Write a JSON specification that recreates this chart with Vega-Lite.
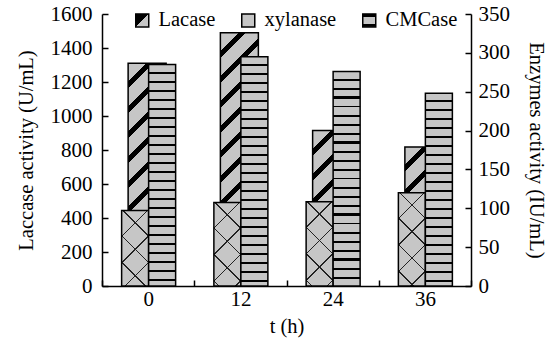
{
  "$schema": "https://vega.github.io/schema/vega-lite/v6.json",
  "width": 369,
  "height": 272,
  "autosize": {"type": "none"},
  "padding": {"left": 102, "top": 14, "right": 80, "bottom": 57},
  "background": "white",
  "config": {
    "view": {"stroke": null},
    "font": "Liberation Serif",
    "style": {"guide-label": {"font": "Liberation Serif", "fontSize": 21, "fill": "black"}, "guide-title": {"font": "Liberation Serif", "fontSize": 20.5, "fill": "black", "fontWeight": "normal"}},
    "axis": {
      "labelFont": "Liberation Serif", "labelFontSize": 21, "labelColor": "black",
      "titleFont": "Liberation Serif", "titleFontSize": 20.5, "titleFontWeight": "normal", "titleColor": "black",
      "domainColor": "black", "domainWidth": 1.5, "tickColor": "black", "tickWidth": 1.5, "tickSize": -6,
      "grid": false
    }
  },
  "params": [
    {"name": "lacStops", "value": [
      {"offset": 0, "color": "#c6c6c6"}, {"offset": 0.06, "color": "#c6c6c6"}, {"offset": 0.06, "color": "#000"}, {"offset": 0.0833, "color": "#000"},
      {"offset": 0.0833, "color": "#c6c6c6"}, {"offset": 0.1433, "color": "#c6c6c6"}, {"offset": 0.1433, "color": "#000"}, {"offset": 0.1667, "color": "#000"},
      {"offset": 0.1667, "color": "#c6c6c6"}, {"offset": 0.2267, "color": "#c6c6c6"}, {"offset": 0.2267, "color": "#000"}, {"offset": 0.25, "color": "#000"},
      {"offset": 0.25, "color": "#c6c6c6"}, {"offset": 0.31, "color": "#c6c6c6"}, {"offset": 0.31, "color": "#000"}, {"offset": 0.3333, "color": "#000"},
      {"offset": 0.3333, "color": "#c6c6c6"}, {"offset": 0.3933, "color": "#c6c6c6"}, {"offset": 0.3933, "color": "#000"}, {"offset": 0.4167, "color": "#000"},
      {"offset": 0.4167, "color": "#c6c6c6"}, {"offset": 0.4767, "color": "#c6c6c6"}, {"offset": 0.4767, "color": "#000"}, {"offset": 0.5, "color": "#000"},
      {"offset": 0.5, "color": "#c6c6c6"}, {"offset": 0.56, "color": "#c6c6c6"}, {"offset": 0.56, "color": "#000"}, {"offset": 0.5833, "color": "#000"},
      {"offset": 0.5833, "color": "#c6c6c6"}, {"offset": 0.6433, "color": "#c6c6c6"}, {"offset": 0.6433, "color": "#000"}, {"offset": 0.6667, "color": "#000"},
      {"offset": 0.6667, "color": "#c6c6c6"}, {"offset": 0.7267, "color": "#c6c6c6"}, {"offset": 0.7267, "color": "#000"}, {"offset": 0.75, "color": "#000"},
      {"offset": 0.75, "color": "#c6c6c6"}, {"offset": 0.81, "color": "#c6c6c6"}, {"offset": 0.81, "color": "#000"}, {"offset": 0.8333, "color": "#000"},
      {"offset": 0.8333, "color": "#c6c6c6"}, {"offset": 0.8933, "color": "#c6c6c6"}, {"offset": 0.8933, "color": "#000"}, {"offset": 0.9167, "color": "#000"},
      {"offset": 0.9167, "color": "#c6c6c6"}, {"offset": 0.9767, "color": "#c6c6c6"}, {"offset": 0.9767, "color": "#000"}, {"offset": 1, "color": "#000"}
    ]},
    {"name": "xyStops", "value": [
      {"offset": 0, "color": "#c6c6c6"}, {"offset": 0.1572, "color": "#c6c6c6"}, {"offset": 0.1572, "color": "#222"}, {"offset": 0.1667, "color": "#222"},
      {"offset": 0.1667, "color": "#c6c6c6"}, {"offset": 0.3239, "color": "#c6c6c6"}, {"offset": 0.3239, "color": "#222"}, {"offset": 0.3333, "color": "#222"},
      {"offset": 0.3333, "color": "#c6c6c6"}, {"offset": 0.4906, "color": "#c6c6c6"}, {"offset": 0.4906, "color": "#222"}, {"offset": 0.5, "color": "#222"},
      {"offset": 0.5, "color": "#c6c6c6"}, {"offset": 0.6572, "color": "#c6c6c6"}, {"offset": 0.6572, "color": "#222"}, {"offset": 0.6667, "color": "#222"},
      {"offset": 0.6667, "color": "#c6c6c6"}, {"offset": 0.8239, "color": "#c6c6c6"}, {"offset": 0.8239, "color": "#222"}, {"offset": 0.8333, "color": "#222"},
      {"offset": 0.8333, "color": "#c6c6c6"}, {"offset": 0.9906, "color": "#c6c6c6"}, {"offset": 0.9906, "color": "#222"}, {"offset": 1, "color": "#222"}
    ]},
    {"name": "xyStops2", "value": [
      {"offset": 0, "color": "rgba(0,0,0,0)"}, {"offset": 0.1572, "color": "rgba(0,0,0,0)"}, {"offset": 0.1572, "color": "#222"}, {"offset": 0.1667, "color": "#222"},
      {"offset": 0.1667, "color": "rgba(0,0,0,0)"}, {"offset": 0.3239, "color": "rgba(0,0,0,0)"}, {"offset": 0.3239, "color": "#222"}, {"offset": 0.3333, "color": "#222"},
      {"offset": 0.3333, "color": "rgba(0,0,0,0)"}, {"offset": 0.4906, "color": "rgba(0,0,0,0)"}, {"offset": 0.4906, "color": "#222"}, {"offset": 0.5, "color": "#222"},
      {"offset": 0.5, "color": "rgba(0,0,0,0)"}, {"offset": 0.6572, "color": "rgba(0,0,0,0)"}, {"offset": 0.6572, "color": "#222"}, {"offset": 0.6667, "color": "#222"},
      {"offset": 0.6667, "color": "rgba(0,0,0,0)"}, {"offset": 0.8239, "color": "rgba(0,0,0,0)"}, {"offset": 0.8239, "color": "#222"}, {"offset": 0.8333, "color": "#222"},
      {"offset": 0.8333, "color": "rgba(0,0,0,0)"}, {"offset": 0.9906, "color": "rgba(0,0,0,0)"}, {"offset": 0.9906, "color": "#222"}, {"offset": 1, "color": "#222"}
    ]},
    {"name": "cmStops", "value": [
      {"offset": 0, "color": "#c6c6c6"}, {"offset": 0.0299, "color": "#c6c6c6"}, {"offset": 0.0299, "color": "#000"}, {"offset": 0.0385, "color": "#000"},
      {"offset": 0.0385, "color": "#c6c6c6"}, {"offset": 0.0684, "color": "#c6c6c6"}, {"offset": 0.0684, "color": "#000"}, {"offset": 0.0769, "color": "#000"},
      {"offset": 0.0769, "color": "#c6c6c6"}, {"offset": 0.1068, "color": "#c6c6c6"}, {"offset": 0.1068, "color": "#000"}, {"offset": 0.1154, "color": "#000"},
      {"offset": 0.1154, "color": "#c6c6c6"}, {"offset": 0.1453, "color": "#c6c6c6"}, {"offset": 0.1453, "color": "#000"}, {"offset": 0.1538, "color": "#000"},
      {"offset": 0.1538, "color": "#c6c6c6"}, {"offset": 0.1838, "color": "#c6c6c6"}, {"offset": 0.1838, "color": "#000"}, {"offset": 0.1923, "color": "#000"},
      {"offset": 0.1923, "color": "#c6c6c6"}, {"offset": 0.2222, "color": "#c6c6c6"}, {"offset": 0.2222, "color": "#000"}, {"offset": 0.2308, "color": "#000"},
      {"offset": 0.2308, "color": "#c6c6c6"}, {"offset": 0.2607, "color": "#c6c6c6"}, {"offset": 0.2607, "color": "#000"}, {"offset": 0.2692, "color": "#000"},
      {"offset": 0.2692, "color": "#c6c6c6"}, {"offset": 0.2991, "color": "#c6c6c6"}, {"offset": 0.2991, "color": "#000"}, {"offset": 0.3077, "color": "#000"},
      {"offset": 0.3077, "color": "#c6c6c6"}, {"offset": 0.3376, "color": "#c6c6c6"}, {"offset": 0.3376, "color": "#000"}, {"offset": 0.3462, "color": "#000"},
      {"offset": 0.3462, "color": "#c6c6c6"}, {"offset": 0.3761, "color": "#c6c6c6"}, {"offset": 0.3761, "color": "#000"}, {"offset": 0.3846, "color": "#000"},
      {"offset": 0.3846, "color": "#c6c6c6"}, {"offset": 0.4145, "color": "#c6c6c6"}, {"offset": 0.4145, "color": "#000"}, {"offset": 0.4231, "color": "#000"},
      {"offset": 0.4231, "color": "#c6c6c6"}, {"offset": 0.453, "color": "#c6c6c6"}, {"offset": 0.453, "color": "#000"}, {"offset": 0.4615, "color": "#000"},
      {"offset": 0.4615, "color": "#c6c6c6"}, {"offset": 0.4915, "color": "#c6c6c6"}, {"offset": 0.4915, "color": "#000"}, {"offset": 0.5, "color": "#000"},
      {"offset": 0.5, "color": "#c6c6c6"}, {"offset": 0.5299, "color": "#c6c6c6"}, {"offset": 0.5299, "color": "#000"}, {"offset": 0.5385, "color": "#000"},
      {"offset": 0.5385, "color": "#c6c6c6"}, {"offset": 0.5684, "color": "#c6c6c6"}, {"offset": 0.5684, "color": "#000"}, {"offset": 0.5769, "color": "#000"},
      {"offset": 0.5769, "color": "#c6c6c6"}, {"offset": 0.6068, "color": "#c6c6c6"}, {"offset": 0.6068, "color": "#000"}, {"offset": 0.6154, "color": "#000"},
      {"offset": 0.6154, "color": "#c6c6c6"}, {"offset": 0.6453, "color": "#c6c6c6"}, {"offset": 0.6453, "color": "#000"}, {"offset": 0.6538, "color": "#000"},
      {"offset": 0.6538, "color": "#c6c6c6"}, {"offset": 0.6838, "color": "#c6c6c6"}, {"offset": 0.6838, "color": "#000"}, {"offset": 0.6923, "color": "#000"},
      {"offset": 0.6923, "color": "#c6c6c6"}, {"offset": 0.7222, "color": "#c6c6c6"}, {"offset": 0.7222, "color": "#000"}, {"offset": 0.7308, "color": "#000"},
      {"offset": 0.7308, "color": "#c6c6c6"}, {"offset": 0.7607, "color": "#c6c6c6"}, {"offset": 0.7607, "color": "#000"}, {"offset": 0.7692, "color": "#000"},
      {"offset": 0.7692, "color": "#c6c6c6"}, {"offset": 0.7991, "color": "#c6c6c6"}, {"offset": 0.7991, "color": "#000"}, {"offset": 0.8077, "color": "#000"},
      {"offset": 0.8077, "color": "#c6c6c6"}, {"offset": 0.8376, "color": "#c6c6c6"}, {"offset": 0.8376, "color": "#000"}, {"offset": 0.8462, "color": "#000"},
      {"offset": 0.8462, "color": "#c6c6c6"}, {"offset": 0.8761, "color": "#c6c6c6"}, {"offset": 0.8761, "color": "#000"}, {"offset": 0.8846, "color": "#000"},
      {"offset": 0.8846, "color": "#c6c6c6"}, {"offset": 0.9145, "color": "#c6c6c6"}, {"offset": 0.9145, "color": "#000"}, {"offset": 0.9231, "color": "#000"},
      {"offset": 0.9231, "color": "#c6c6c6"}, {"offset": 0.953, "color": "#c6c6c6"}, {"offset": 0.953, "color": "#000"}, {"offset": 0.9615, "color": "#000"},
      {"offset": 0.9615, "color": "#c6c6c6"}, {"offset": 0.9915, "color": "#c6c6c6"}, {"offset": 0.9915, "color": "#000"}, {"offset": 1, "color": "#000"}
    ]}
  ],
  "data": {"values": [
    {"t": "0", "enzyme": "Lacase", "value": 1310},
    {"t": "12", "enzyme": "Lacase", "value": 1490},
    {"t": "24", "enzyme": "Lacase", "value": 915},
    {"t": "36", "enzyme": "Lacase", "value": 818},
    {"t": "0", "enzyme": "xylanase", "value": 97},
    {"t": "12", "enzyme": "xylanase", "value": 107.5},
    {"t": "24", "enzyme": "xylanase", "value": 108.5},
    {"t": "36", "enzyme": "xylanase", "value": 120},
    {"t": "0", "enzyme": "CMCase", "value": 285},
    {"t": "12", "enzyme": "CMCase", "value": 295},
    {"t": "24", "enzyme": "CMCase", "value": 276},
    {"t": "36", "enzyme": "CMCase", "value": 248}
  ]},
  "encoding": {
    "x": {
      "field": "t", "type": "ordinal", "sort": ["0", "12", "24", "36"],
      "scale": {"paddingInner": 0, "paddingOuter": 0},
      "axis": {"title": "t (h)", "labelAngle": 0, "tickBand": "extent", "labelPadding": 8, "titlePadding": 7, "labelFont": "Liberation Serif", "labelFontSize": 21}
    }
  },
  "layer": [
    {
      "transform": [{"filter": "datum.enzyme === 'Lacase'"}],
      "mark": {
        "type": "bar", "width": 38, "xOffset": -1, "strokeWidth": 1.5,
        "fill": {"expr": "{gradient: 'linear', x1: 0, y1: 0, x2: 38*300/(38*38 + pow(datum.value*0.17, 2)), y2: datum.value*0.17*300/(38*38 + pow(datum.value*0.17, 2)), stops: lacStops}"}
      },
      "encoding": {
        "y": {
          "field": "value", "type": "quantitative", "stack": null,
          "scale": {"domain": [0, 1600], "nice": false},
          "axis": {"orient": "left", "title": "Laccase activity (U/mL)", "format": "d", "values": [0, 200, 400, 600, 800, 1000, 1200, 1400, 1600], "labelPadding": 16, "labelFont": "Liberation Serif", "labelFontSize": 21, "titleX": -76, "titleY": 136, "titleAngle": -90, "titleBaseline": "middle", "titleAlign": "center"}
        },
        "stroke": {
          "field": "enzyme", "type": "nominal",
          "scale": {"domain": ["Lacase", "xylanase", "CMCase"], "range": ["black", "black", "black"]},
          "legend": {
            "orient": "none", "legendX": 30, "legendY": -4, "direction": "horizontal", "title": null,
            "symbolType": "square", "symbolSize": 169, "symbolStrokeWidth": 1.5,
            "symbolFillColor": "#c6c6c6", "symbolStrokeColor": "black",
            "labelFont": "Liberation Serif", "labelFontSize": 20.5, "labelColor": "black",
            "labelOffset": 6, "columnPadding": 22, "padding": 0,
            "encoding": {"symbols": {
              "stroke": {"value": "black"},
              "fill": {"value": {"expr": "datum.value === 'Lacase' ? {gradient: 'linear', x1: 0, y1: 0, x2: 1, y2: 1, stops: [{offset: 0, color: '#000'}, {offset: 0.5, color: '#000'}, {offset: 0.5, color: '#c6c6c6'}, {offset: 1, color: '#c6c6c6'}]} : datum.value === 'CMCase' ? {gradient: 'linear', x1: 0, y1: 0, x2: 0, y2: 1, stops: [{offset: 0, color: '#000'}, {offset: 0.25, color: '#000'}, {offset: 0.25, color: '#c6c6c6'}, {offset: 0.75, color: '#c6c6c6'}, {offset: 0.75, color: '#000'}, {offset: 1, color: '#000'}]} : '#c6c6c6'"}}
            }}
          }
        }
      }
    },
    {
      "encoding": {
        "y": {
          "field": "value", "type": "quantitative", "stack": null,
          "scale": {"domain": [0, 350], "nice": false},
          "axis": {"orient": "right", "title": "Enzymes activity (IU/mL)", "format": "d", "values": [0, 50, 100, 150, 200, 250, 300, 350], "labelPadding": 13, "labelFont": "Liberation Serif", "labelFontSize": 21, "titleX": 64, "titleY": 136, "titleAngle": 90, "titleBaseline": "middle", "titleAlign": "center"}
        }
      },
      "layer": [
        {
          "transform": [{"filter": "datum.enzyme === 'xylanase'"}],
          "mark": {
            "type": "bar", "width": 27, "xOffset": -13, "strokeWidth": 0,
            "fill": {"expr": "{gradient: 'linear', x1: 0, y1: 0, x2: 27*159/(27*27 + pow(datum.value*272/350, 2)), y2: (datum.value*272/350)*159/(27*27 + pow(datum.value*272/350, 2)), stops: xyStops}"}
          }
        },
        {
          "transform": [{"filter": "datum.enzyme === 'xylanase'"}],
          "mark": {
            "type": "bar", "width": 27, "xOffset": -13, "stroke": "black", "strokeWidth": 1.5,
            "fill": {"expr": "{gradient: 'linear', x1: 1, y1: 0, x2: 1 - 27*159/(27*27 + pow(datum.value*272/350, 2)), y2: (datum.value*272/350)*159/(27*27 + pow(datum.value*272/350, 2)), stops: xyStops2}"}
          }
        },
        {
          "transform": [{"filter": "datum.enzyme === 'CMCase'"}],
          "mark": {
            "type": "bar", "width": 27, "xOffset": 14, "stroke": "black", "strokeWidth": 1.5,
            "fill": {"expr": "{gradient: 'linear', x1: 0, y1: 0, x2: 0, y2: 234/(datum.value*272/350), stops: cmStops}"}
          }
        }
      ]
    }
  ],
  "resolve": {"scale": {"y": "independent"}}
}
